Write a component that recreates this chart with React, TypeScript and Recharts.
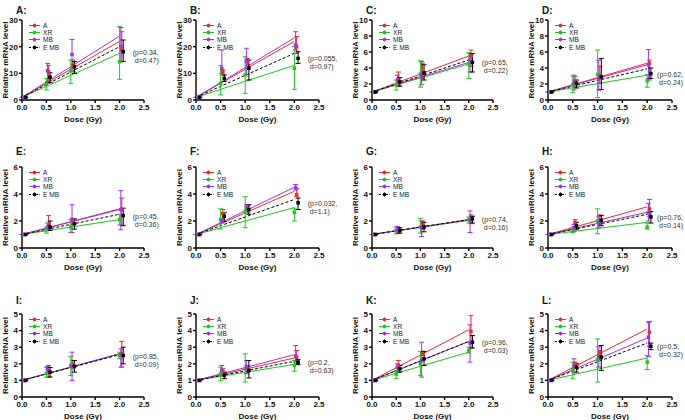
import React from 'react';
import { ComposedChart, Line, Scatter, XAxis, YAxis, ErrorBar, ReferenceDot } from 'recharts';

// ---------------- data ----------------
const panelLetters = ['A', 'B', 'C', 'D', 'E', 'F', 'G', 'H', 'I', 'J', 'K', 'L'];
const doses = [0, 0.5, 1, 2];
const seriesNames = ['A', 'XR', 'MB', 'E MB'];
const xTicks = [0, 0.5, 1, 1.5, 2, 2.5];
const yMaxes = [30, 30, 10, 10, 6, 6, 6, 6, 5, 5, 5, 5];
const yTicks30 = [0, 10, 20, 30];
const yTicks10 = [0, 2, 4, 6, 8, 10];
const yTicks6 = [0, 2, 4, 6];
const yTicks5 = [0, 1, 2, 3, 4, 5];
const pValues = ['0.34', '0.055', '0.65', '0.62', '0.45', '0.032', '0.74', '0.76', '0.85', '0.2', '0.96', '0.5'];
const dValues = ['0.47', '0.97', '0.22', '0.24', '0.36', '1.1', '0.16', '0.14', '0.09', '0.63', '0.03', '0.32'];

// series "A" (red)
const meanA = [[1, 10.5, 13.1, 18.8], [1, 10.6, 14.4, 20], [1, 2.3, 3.3, 5.5], [1, 2.4, 3.1, 4.6], [1, 1.65, 2.0, 2.85], [1, 2.55, 2.85, 3.95], [1, 1.3, 1.75, 2.15], [1, 1.9, 2.0, 2.9], [1, 1.6, 2.0, 2.6], [1, 1.55, 1.65, 2.4], [1, 1.9, 2.6, 3.95], [1, 2.0, 2.65, 3.9]];
const loA = [[1, 7.5, 10.6, 14.4], [1, 9.4, 13.1, 17.5], [1, 1.7, 2.7, 4.2], [1, 1.7, 2.1, 2.5], [1, 1.36, 1.75, 1.7], [1, 2.2, 2.6, 3.8], [1, 1.1, 1.4, 1.8], [1, 1.35, 1.7, 2.35], [1, 1.2, 1.7, 1.8], [1, 1.3, 1.45, 2.0], [1, 1.7, 2.5, 2.95], [1, 1.8, 2.25, 3.05]];
const hiA = [[1, 13, 15, 25.6], [1, 11.3, 15.6, 23.8], [1, 3.5, 4.6, 6.25], [1, 2.9, 4.2, 5.0], [1, 2.4, 2.2, 3.7], [1, 2.85, 3.1, 4.4], [1, 1.5, 2.0, 2.45], [1, 2.1, 2.45, 3.6], [1, 1.9, 2.2, 3.35], [1, 1.7, 1.9, 2.8], [1, 2.2, 2.7, 4.9], [1, 2.1, 2.8, 4.55]];
const fitA = [22, 22, 5.5, 4.6, 2.85, 4.2, 2.1, 3.05, 2.6, 2.35, 4.05, 4.1];

// series "XR" (green)
const meanXR = [[1, 5.8, 10.9, 14.4], [1, 6.25, 9.4, 11.9], [1, 1.9, 3.25, 4.5], [1, 1.9, 3.2, 2.4], [1, 1.35, 1.55, 2.1], [1, 2.1, 2.7, 2.65], [1, 1.3, 1.55, 2.1], [1, 1.35, 2.0, 1.55], [1, 1.42, 1.9, 2.5], [1, 1.4, 1.7, 1.9], [1, 1.38, 2.0, 2.8], [1, 1.65, 2.25, 2.1]];
const loXR = [[1, 3.8, 6.25, 7.75], [1, 1.9, 2.5, 4], [1, 1.25, 1.6, 2.7], [1, 0.9, 0.3, 1.6], [1, 1.1, 1.15, 1.7], [1, 1.4, 1.5, 2.0], [1, 1.05, 1.1, 1.85], [1, 1.15, 1.05, 1.4], [1, 1.2, 1.3, 2.3], [1, 0.97, 0.9, 1.55], [1, 1.1, 1.3, 2.65], [1, 1.1, 0.9, 1.65]];
const hiXR = [[1, 8, 15, 27.5], [1, 13, 16.25, 20], [1, 2.5, 4.9, 5.9], [1, 3.0, 6.25, 3.2], [1, 1.55, 2.1, 2.5], [1, 2.9, 3.8, 2.95], [1, 1.55, 2.2, 2.3], [1, 1.55, 2.9, 1.85], [1, 1.78, 2.45, 2.7], [1, 1.8, 2.6, 2.2], [1, 1.6, 2.75, 3.0], [1, 2.1, 3.5, 2.5]];
const fitXR = [17.5, 13, 4.5, 3.1, 2.1, 3.0, 2.1, 1.9, 2.6, 1.97, 2.7, 2.35];

// series "MB" (purple)
const meanMB = [[1, 11, 17.1, 20], [1, 11.9, 14.4, 20.6], [1, 2.5, 3.1, 5.0], [1, 2.2, 2.7, 4.4], [1, 1.55, 2.1, 2.85], [1, 2.0, 2.95, 4.45], [1, 1.35, 1.5, 2.05], [1, 1.5, 1.85, 2.6], [1, 1.65, 1.85, 2.55], [1, 1.6, 1.8, 2.45], [1, 1.8, 2.2, 3.25], [1, 1.85, 2.45, 3.6]];
const loMB = [[1, 6.9, 11.9, 14.4], [1, 10, 9.4, 18.75], [1, 1.9, 1.9, 3.5], [1, 1.25, 1.25, 2.7], [1, 1.35, 1.15, 1.35], [1, 1.85, 2.7, 4.3], [1, 1.1, 0.85, 1.15], [1, 1.25, 1.5, 2.0], [1, 1.4, 1.0, 1.8], [1, 1.3, 1.4, 2.1], [1, 1.5, 1.2, 2.1], [1, 1.45, 1.8, 2.45]];
const hiMB = [[1, 13.7, 22.7, 27.2], [1, 18.75, 19.4, 25.6], [1, 3.1, 4.8, 5.8], [1, 3.1, 5, 6.3], [1, 1.85, 3.2, 4.25], [1, 2.1, 3.2, 4.7], [1, 1.6, 2.0, 2.75], [1, 1.75, 2.35, 3.3], [1, 1.85, 2.7, 2.9], [1, 1.9, 2.2, 3.1], [1, 2.0, 3.3, 4.35], [1, 2.3, 3.05, 4.5]];
const fitMB = [24, 23.3, 4.7, 4.4, 2.9, 4.5, 2.05, 2.65, 2.6, 2.55, 3.35, 3.55];

// series "E MB" (black)
const meanEMB = [[1, 8.6, 12.5, 18.1], [1, 8.1, 11.9, 15.6], [1, 2.3, 3.4, 4.7], [1, 2.1, 2.9, 3.3], [1, 1.55, 1.8, 2.4], [1, 2.35, 2.85, 3.35], [1, 1.3, 1.55, 2.15], [1, 1.65, 2.05, 2.3], [1, 1.5, 1.85, 2.5], [1, 1.3, 1.6, 2.1], [1, 1.7, 2.3, 3.3], [1, 1.8, 2.4, 3.05]];
const loEMB = [[1, 6.5, 10, 14.4], [1, 6.9, 7.5, 13.75], [1, 1.75, 2.5, 3.5], [1, 1.5, 1.3, 2.7], [1, 1.3, 1.4, 1.65], [1, 1.95, 2.5, 2.85], [1, 1.1, 1.2, 1.85], [1, 1.4, 1.65, 1.85], [1, 1.2, 1.5, 2.0], [1, 1.1, 1.15, 1.95], [1, 1.5, 1.9, 2.95], [1, 1.5, 1.6, 2.85]];
const hiEMB = [[1, 10.2, 14.4, 22.5], [1, 9.4, 15, 18.1], [1, 2.8, 4.4, 5.8], [1, 2.5, 5.2, 4.0], [1, 2.0, 2.15, 2.95], [1, 2.6, 3.2, 3.7], [1, 1.5, 1.9, 2.35], [1, 1.9, 2.4, 2.7], [1, 1.78, 2.2, 3.0], [1, 1.5, 2.2, 2.25], [1, 1.9, 2.75, 3.7], [1, 2.0, 3.1, 3.25]];
const fitEMB = [20, 17.5, 5.0, 3.9, 2.5, 3.6, 2.1, 2.5, 2.55, 2.15, 3.35, 3.25];

// ---------------- styling / layout ----------------
const COLORS = ['#f02828', '#22c322', '#a232e8', '#000000'];
const JITTER = [0.045, 0, 0.025, 0.075];
const FONT = '"Liberation Sans", Arial, sans-serif';
const COL_X = [22, 196, 372, 548];
const COL_W = [122, 123, 121, 124];
const ROW_TOP = [20, 167, 314];
const ROW_H = [80, 81, 83];
const TITLE_TOP = [6, 147, 296];
const NOTE_X = [2.27, 2.27, 2.27, 2.2];
const M_TOP = 10;
const M_RIGHT = 30;
const Y_AXIS_W = 22;
const X_AXIS_H = 24;

const seriesSets = [
  { mean: meanA, lo: loA, hi: hiA, fit: fitA },
  { mean: meanXR, lo: loXR, hi: hiXR, fit: fitXR },
  { mean: meanMB, lo: loMB, hi: hiMB, fit: fitMB },
  { mean: meanEMB, lo: loEMB, hi: hiEMB, fit: fitEMB },
];

function ticksFor(max: number) {
  if (max === 30) return yTicks30;
  if (max === 10) return yTicks10;
  if (max === 6) return yTicks6;
  return yTicks5;
}

const axisTick = { fontSize: 8, fontWeight: 'bold', fill: '#111', fontFamily: FONT };
const labelStyle = { fontSize: 8, fontWeight: 'bold', fill: '#111', fontFamily: FONT };

function LegendBox({ left, top }: { left: number; top: number }) {
  return (
    <div style={{ position: 'absolute', left, top, fontFamily: FONT, fontSize: 6.6, color: '#222' }}>
      {seriesNames.map((n, i) => (
        <div key={n} style={{ height: 7.2, lineHeight: '7.2px', display: 'flex', alignItems: 'center', whiteSpace: 'nowrap' }}>
          <svg width={11} height={7} style={{ display: 'block' }}>
            <line x1={0} y1={3.5} x2={11} y2={3.5} stroke={COLORS[i]} strokeWidth={1} strokeDasharray={i === 3 ? '2 1.5' : undefined} />
            <line x1={5.5} y1={1.5} x2={5.5} y2={5.5} stroke={COLORS[i]} strokeWidth={1} />
            <rect x={4} y={2} width={3} height={3} fill={COLORS[i]} />
          </svg>
          <span style={{ marginLeft: 3 }}>{n}</span>
        </div>
      ))}
    </div>
  );
}

function Panel({ idx }: { idx: number }) {
  const col = idx % 4;
  const row = Math.floor(idx / 4);
  const plotX = COL_X[col];
  const plotW = COL_W[col];
  const plotTop = ROW_TOP[row];
  const plotH = ROW_H[row];
  const width = Y_AXIS_W + plotW + M_RIGHT;
  const height = M_TOP + plotH + X_AXIS_H;
  const yMax = yMaxes[idx];

  const lines = seriesSets.map((s) => [
    { x: 0, y: 1 },
    { x: 2, y: s.fit[idx] },
  ]);
  const points = seriesSets.map((s, si) =>
    doses.map((d, di) => {
      const m = s.mean[idx][di];
      return { x: d + JITTER[si], y: m, err: [m - s.lo[idx][di], s.hi[idx][di] - m] };
    })
  );
  const embEnd = meanEMB[idx][3];

  return (
    <>
      <div
        style={{
          position: 'absolute',
          left: plotX - 6,
          top: TITLE_TOP[row],
          fontFamily: FONT,
          fontWeight: 'bold',
          fontSize: 10,
          lineHeight: '10px',
          color: '#111',
        }}
      >
        {panelLetters[idx]}:
      </div>
      <div style={{ position: 'absolute', left: plotX - Y_AXIS_W, top: plotTop - M_TOP }}>
        <ComposedChart width={width} height={height} margin={{ top: M_TOP, right: M_RIGHT, bottom: 0, left: 0 }}>
          <XAxis
            type="number"
            dataKey="x"
            domain={[0, 2.5]}
            ticks={xTicks}
            allowDataOverflow
            tickFormatter={(v: number) => v.toFixed(1)}
            tick={axisTick}
            tickSize={3}
            tickMargin={1}
            height={X_AXIS_H}
            axisLine={{ stroke: '#000', strokeWidth: 1.4 }}
            tickLine={{ stroke: '#000', strokeWidth: 1.4 }}
            label={{ value: 'Dose (Gy)', position: 'insideBottom', offset: 2, style: labelStyle }}
          />
          <YAxis
            type="number"
            dataKey="y"
            domain={[0, yMax]}
            ticks={ticksFor(yMax)}
            allowDataOverflow
            tick={axisTick}
            tickSize={3}
            tickMargin={1}
            width={Y_AXIS_W}
            axisLine={{ stroke: '#000', strokeWidth: 1.4 }}
            tickLine={{ stroke: '#000', strokeWidth: 1.4 }}
            label={{ value: 'Relative mRNA level', angle: -90, position: 'center', dx: -6, style: labelStyle }}
          />
          {lines.map((ld, si) => (
            <Line
              key={'l' + si}
              data={ld}
              dataKey="y"
              stroke={COLORS[si]}
              strokeWidth={1}
              strokeDasharray={si === 3 ? '3 2' : undefined}
              dot={false}
              activeDot={false}
              isAnimationActive={false}
            />
          ))}
          {points.map((pd, si) => (
            <Scatter
              key={'s' + si}
              data={pd}
              dataKey="y"
              fill={COLORS[si]}
              isAnimationActive={false}
              shape={(p: any) => (
                <rect x={p.cx - 1.75} y={p.cy - 1.75} width={3.5} height={3.5} fill={COLORS[si]} />
              )}
            >
              <ErrorBar dataKey="err" direction="y" width={2.5} stroke={COLORS[si]} strokeWidth={1} />
            </Scatter>
          ))}
          <ReferenceDot
            x={NOTE_X[col]}
            y={embEnd}
            r={0}
            shape={(p: any) => (
              <g>
                <text x={p.cx} y={p.cy + 3} fontSize={7} fill="#333" fontFamily={FONT}>
                  (p={pValues[idx]},
                </text>
                <text x={p.cx + 2} y={p.cy + 11} fontSize={7} fill="#333" fontFamily={FONT}>
                  d={dValues[idx]})
                </text>
              </g>
            )}
          />
        </ComposedChart>
      </div>
      <LegendBox left={plotX + 7} top={plotTop + 2} />
    </>
  );
}

export default function App() {
  return (
    <div style={{ position: 'absolute', left: 0, top: 0, width: 685, height: 420, background: '#fff', overflow: 'hidden' }}>
      {panelLetters.map((_, i) => (
        <Panel key={i} idx={i} />
      ))}
    </div>
  );
}
